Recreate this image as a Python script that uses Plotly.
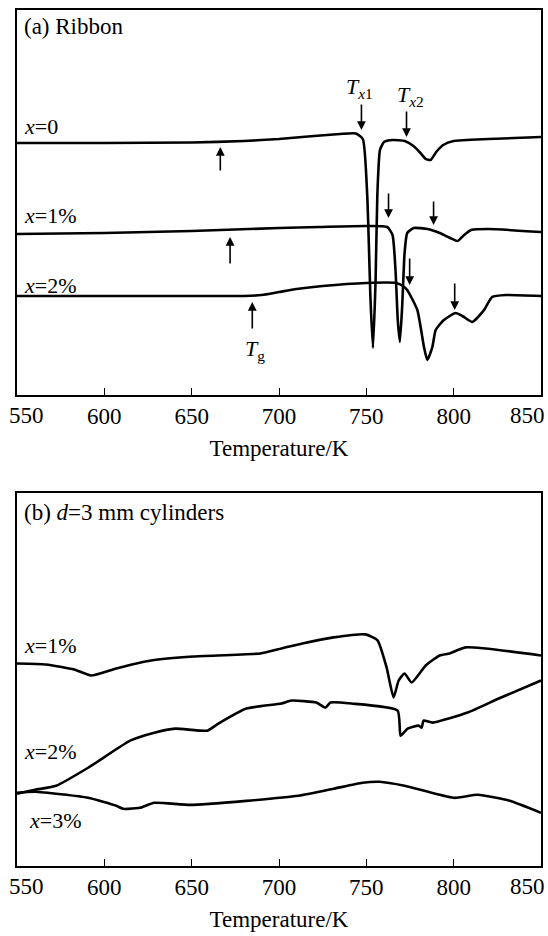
import plotly.graph_objects as go

# ---------------- data ----------------
# Panel (a) Ribbon: DSC heat flow (arb. units) vs temperature (K)
a_x0_T = [550, 600, 650, 680, 700, 720, 735, 744, 748, 750.5, 752.4, 753.8, 755.3, 756.3, 757.8, 760.1, 765, 772, 777, 781, 784, 786.8, 790, 794, 800, 820, 850]
a_x0_v = [252, 252, 252.5, 254, 256, 259, 261, 261.5, 256, 200, 95, 47, 115, 200, 245, 253, 255, 254, 249, 242, 236, 235, 243, 250, 254, 256, 258]

a_x1_T = [550, 600, 650, 700, 723, 750, 762, 765, 766.7, 768, 769.2, 770.5, 771.9, 773.4, 777.2, 785, 792, 798, 802.3, 806, 810, 820, 850]
a_x1_v = [161, 162, 164, 167, 168, 169, 168, 160, 125, 75, 53, 88, 142, 162, 167, 166, 162, 157, 154, 160, 165, 166, 163]

a_x2_T = [550, 650, 680, 690, 700, 710, 725, 750, 767, 771, 773.4, 779.2, 783, 784.9, 787.8, 789.7, 794.4, 801.1, 805, 810.7, 817.4, 822, 830, 850]
a_x2_v = [99, 99, 99, 100, 103, 106, 109, 112, 112, 109, 105, 85, 48, 35, 48, 65, 75, 82, 79, 73, 85, 98, 100, 99]

# Panel (b) d=3 mm cylinders
b_x1_T = [550, 566.6, 582.7, 592.4, 606.8, 626.8, 650.9, 689.3, 701.4, 713.4, 731.2, 749.5, 756.4, 761.6, 765.6, 768.5, 771.9, 775.9, 784, 792, 797.7, 806.9, 850]
b_x1_v = [202, 201, 196, 190, 197, 205, 209, 212, 217, 222, 228, 231, 225, 198, 168, 185, 192, 183, 200, 210, 212, 218, 210]

b_x2_T = [550, 560.3, 572.4, 590.7, 614.8, 628.6, 640.6, 659, 665.3, 681.3, 701.4, 707.1, 721.4, 726.6, 729.5, 741.5, 767.9, 769.6, 773.6, 779.9, 781.7, 782.8, 788, 808, 825.8, 850]
b_x2_v = [72, 76, 80, 98, 125, 133, 137, 135, 142, 157, 162, 165, 163, 158, 163, 162, 155, 130, 137, 140, 138, 145, 143, 153, 167, 185]

b_x3_T = [550, 560.3, 590.7, 606.8, 610.8, 613.6, 620.5, 628.6, 649.2, 681.3, 711.1, 731.2, 747.8, 757.6, 771.9, 800, 813.8, 832.1, 850]
b_x3_v = [73, 74, 68, 60, 57, 57, 58, 63, 61, 65, 70, 77, 83, 84, 80, 68, 71, 65, 53]

tick_vals = [550, 600, 650, 700, 750, 800, 850]
tick_text = ["", "600", "650", "700", "750", "800", ""]   # end labels drawn as annotations (nudged inward)
end_tick_text = ["550", "850"]

FONT = "Liberation Serif"
LINE = dict(color="black", width=2.6, shape="spline", smoothing=0.5)

fig = go.Figure()
for T, v in [(a_x0_T, a_x0_v), (a_x1_T, a_x1_v), (a_x2_T, a_x2_v)]:
    fig.add_trace(go.Scatter(x=T, y=v, mode="lines", line=LINE, xaxis="x", yaxis="y",
                             showlegend=False, hoverinfo="skip"))
for T, v in [(b_x1_T, b_x1_v), (b_x2_T, b_x2_v), (b_x3_T, b_x3_v)]:
    fig.add_trace(go.Scatter(x=T, y=v, mode="lines", line=LINE, xaxis="x2", yaxis="y2",
                             showlegend=False, hoverinfo="skip"))

xaxis_common = dict(range=[550, 850], tickvals=tick_vals, ticktext=tick_text,
                    ticks="inside", ticklen=7, tickwidth=1.3, tickcolor="black",
                    showline=True, mirror=True, linecolor="black", linewidth=1.5,
                    showgrid=False, zeroline=False, automargin=False,
                    tickfont=dict(family=FONT, size=23, color="black"),
                    title=dict(text="Temperature/K", font=dict(family=FONT, size=23, color="black"), standoff=12),
                    domain=[17 / 548, 541 / 548])
yaxis_common = dict(showticklabels=False, ticks="", showline=True, mirror=True, automargin=False,
                    linecolor="black", linewidth=1.5, showgrid=False, zeroline=False)

fig.update_layout(
    template="none",
    width=548, height=936,
    margin=dict(l=0, r=0, t=0, b=0),
    paper_bgcolor="white", plot_bgcolor="white",
    xaxis=dict(**xaxis_common, anchor="y"),
    yaxis=dict(**yaxis_common, range=[0, 385], domain=[1 - 395 / 936, 1 - 10 / 936], anchor="x"),
    xaxis2=dict(**xaxis_common, anchor="y2"),
    yaxis2=dict(**yaxis_common, range=[0, 372], domain=[1 - 866 / 936, 1 - 493 / 936], anchor="x2"),
)

ann = []
def text(x, y, s, xr="x", yr="y", size=22, anchor="left"):
    ann.append(dict(x=x, y=y, xref=xr, yref=yr, text=s, showarrow=False, xanchor=anchor,
                    yanchor="middle", font=dict(family=FONT, size=size, color="black")))

def arrow(x, y, dy, xr="x", yr="y"):
    ann.append(dict(x=x, y=y, xref=xr, yref=yr, text="", showarrow=True, ax=0, ay=dy,
                    arrowhead=2, arrowsize=1.1, arrowwidth=1.6, arrowcolor="black"))

# end tick labels, nudged inward as in the original figure
for xr, yr in [("x", "y domain"), ("x2", "y2 domain")]:
    ann.append(dict(x=tick_vals[0], y=0, xref=xr, yref=yr, text=end_tick_text[0], showarrow=False,
                    xanchor="center", yanchor="top", xshift=9, yshift=-6,
                    font=dict(family=FONT, size=23, color="black")))
    ann.append(dict(x=tick_vals[-1], y=0, xref=xr, yref=yr, text=end_tick_text[1], showarrow=False,
                    xanchor="center", yanchor="top", xshift=-14, yshift=-6,
                    font=dict(family=FONT, size=23, color="black")))

# panel (a) texts
text(553, 368, "(a) Ribbon", size=23)
text(553, 268, "<i>x</i>=0")
text(553, 179, "<i>x</i>=1%")
text(553, 109, "<i>x</i>=2%")
text(746.1, 307, "<i>T</i><sub><i>x</i>1</sub>", size=22, anchor="center")
text(775.3, 299, "<i>T</i><sub><i>x</i>2</sub>", size=22, anchor="center")
text(686.5, 45, "<i>T</i><sub>g</sub>", size=22, anchor="center")

# panel (a) arrows: (T, head value, tail offset in px; positive = tail below)
arrow(666.4, 248, 25)
arrow(747.2, 265, -27)
arrow(773.0, 258, -27)
arrow(672.0, 158, 28)
arrow(762.7, 177, -26)
arrow(788.5, 170, -25)
arrow(774.8, 110, -28)
arrow(800.6, 85, -28)
arrow(684.7, 93, 28)

# panel (b) texts
text(553, 353, "(b) <i>d</i>=3 mm cylinders", xr="x2", yr="y2", size=23)
text(553, 220, "<i>x</i>=1%", xr="x2", yr="y2")
text(553, 114, "<i>x</i>=2%", xr="x2", yr="y2")
text(556, 45, "<i>x</i>=3%", xr="x2", yr="y2")

fig.update_layout(annotations=ann)
fig.write_html("out.html", config={"displayModeBar": False},
               post_script="document.body.style.margin='0';document.body.style.overflow='hidden';")
